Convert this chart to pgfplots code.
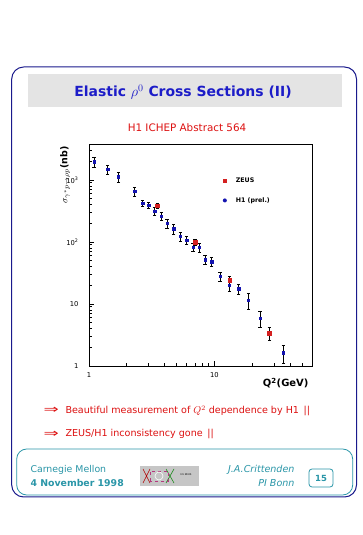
\documentclass[border=0pt]{standalone}
\usepackage{fontspec}
\setmainfont{DejaVu Sans}
\usepackage{graphicx}
\usepackage{pgfplots}
\pgfplotsset{compat=1.18}
\definecolor{navy}{HTML}{1A1A8C}
\definecolor{titleblue}{HTML}{1C1CC8}
\definecolor{slidered}{HTML}{DD1111}
\definecolor{teal2}{HTML}{2A96A8}
\definecolor{hdrgray}{HTML}{E4E4E4}
\definecolor{zeusred}{HTML}{D42020}
\definecolor{hblue}{HTML}{1414B0}
\newcommand{\Arr}{\makebox[22bp][l]{\raisebox{-0.3bp}{\scalebox{1.9}[1.25]{⇒}}}}
\begin{document}
\begin{tikzpicture}
\fill[white] (0,0) rectangle (363bp,535bp);
\path[use as bounding box] (0,0) rectangle (363bp,535bp);
% slide frame
\draw[navy, line width=1bp, rounded corners=12bp] (11.7bp,38bp) rectangle (356.5bp,468bp);
\fill[hdrgray] (28bp,428bp) rectangle (342bp,461bp);
\node[titleblue, font=\fontsize{14}{16}\selectfont\bfseries] at (183bp,443bp) {Elastic $\rho^{0}$ Cross Sections (II)};
\node[slidered, font=\fontsize{10.4}{12}\selectfont] at (187bp,407bp) {H1 ICHEP Abstract 564};
% bullets
\node[slidered, anchor=west, font=\fontsize{9.6}{11}\selectfont] at (40bp,124.3bp) {\Arr Beautiful measurement of $Q^2$ dependence by H1 \,||};
\node[slidered, anchor=west, font=\fontsize{9.6}{11}\selectfont] at (40bp,100.7bp) {\Arr ZEUS/H1 inconsistency gone \,||};
% footer
\draw[teal2, line width=0.8bp, rounded corners=10bp] (16.7bp,40bp) rectangle (352.7bp,86bp);
\node[teal2, anchor=west, font=\fontsize{9.4}{11}\selectfont] at (27bp,65bp) {Carnegie Mellon};
\node[teal2, anchor=west, font=\fontsize{9.4}{11}\selectfont\bfseries] at (27bp,52bp) {4 November 1998};
\node[teal2, anchor=east, font=\fontsize{9.6}{11}\selectfont\itshape] at (298bp,65bp) {J.A.Crittenden};
\node[teal2, anchor=east, font=\fontsize{9.6}{11}\selectfont\itshape] at (298bp,52bp) {PI Bonn};
\draw[teal2, line width=0.8bp, rounded corners=3bp] (309bp,48bp) rectangle (333bp,66bp);
\node[teal2, font=\fontsize{8.5}{10}\selectfont\bfseries] at (321bp,57bp) {15};
% logo
\fill[gray!45] (140bp,49bp) rectangle (199bp,69bp);
\draw[red!70!black, line width=0.5bp] (143bp,52bp) -- (150bp,66bp) (143bp,66bp) -- (150bp,52bp);
\draw[green!50!black, line width=0.5bp] (166bp,52bp) -- (174bp,66bp) (166bp,66bp) -- (174bp,52bp);
\draw[magenta!70!black, dashed, line width=0.4bp] (150bp,54bp) rectangle (168bp,64bp);
\draw[white, line width=0.6bp] (159bp,59bp) circle (4bp);
\node[black, font=\fontsize{2.5}{3}\selectfont] at (186bp,60bp) {H1 ZEUS};
\begin{axis}[
  at={(89bp,169bp)}, anchor=south west,
  scale only axis, width=223bp, height=222bp,
  xmode=log, ymode=log,
  xmin=1, xmax=60, ymin=1, ymax=3800,
  axis line style={line width=0.9bp},
  tick style={black, line width=0.7bp},
  tick align=inside,
  major tick length=5bp, minor tick length=3.2bp,
  xtick pos=left, ytick pos=left,
  xtick={1,10}, xticklabels={\mbox{1},\mbox{10}},
  ytick={1,10,100,1000},
  yticklabels={\mbox{1},\mbox{10},\mbox{10\textsuperscript{2}},\mbox{10\textsuperscript{3}}},
  minor xtick={2,3,4,5,6,7,8,9,20,30,40,50},
  minor ytick={2,3,4,5,6,7,8,9,20,30,40,50,60,70,80,90,200,300,400,500,600,700,800,900,2000,3000},
  ticklabel style={font=\fontsize{6.8}{8}\selectfont},
  yticklabel style={xshift=-7bp},
  xticklabel style={yshift=-3bp},
  clip=false,
  legend style={draw=none, fill=none, at={(rel axis cs:0.585,0.865)}, anchor=north west,
    font=\fontsize{6.3}{7.5}\selectfont\bfseries, row sep=9bp, legend cell align=left},
  reverse legend,
  error bars/y dir=both, error bars/y explicit relative,
  error bars/error bar style={black, line width=0.6bp},
  error bars/error mark options={black, rotate=90, mark size=1.7bp, line width=0.6bp},
]
\addplot[only marks, mark=square*, mark size=1.15bp, color=hblue,
  legend image code/.code={\path[draw=none, fill=none] (-2bp,0) rectangle (9bp,0.1bp); \fill[hblue, draw=none] (0bp,0bp) circle (2bp);}]
  table[x=x, y=y, y error=e] {
x y e
1.10 1970 0.19
1.41 1500 0.17
1.72 1130 0.18
2.31 652 0.16
2.68 426 0.11
2.99 387 0.11
3.34 314 0.15
3.78 262 0.15
4.20 202 0.17
4.74 163 0.17
5.34 123 0.17
6.00 106 0.15
6.74 82.8 0.15
7.58 82.8 0.17
8.41 51.9 0.17
9.51 48.1 0.17
11.1 27.7 0.17
13.2 20.2 0.20
15.6 17.6 0.20
18.7 11.5 0.28
23.1 5.93 0.28
35.5 1.64 0.32
};
\addlegendentry{H1 (prel.)}
\addplot[only marks, mark=square*, mark size=1.8bp, color=zeusred,
  legend image code/.code={\path[draw=none, fill=none] (-2bp,0) rectangle (9bp,0.1bp); \fill[zeusred, draw=none] (-2.2bp,-2.2bp) rectangle (2.2bp,2.2bp);}]
  table[x=x, y=y, y error=e] {
x y e
3.51 382 0.10
7.00 100 0.10
13.2 24.3 0.15
27.4 3.39 0.22
};
\addlegendentry{ZEUS}
\node[xshift=-24bp, rotate=90, font=\fontsize{9.5}{11}\selectfont] at (rel axis cs:0,0.86) {$\sigma_{\gamma^{*}p\to\rho p}$\textbf{(nb)}};
\node[anchor=east, font=\fontsize{10}{12}\selectfont\bfseries] at (rel axis cs:1,0) [yshift=-17bp] {Q\textsuperscript{2}(GeV)};
\end{axis}
\end{tikzpicture}
\end{document}
